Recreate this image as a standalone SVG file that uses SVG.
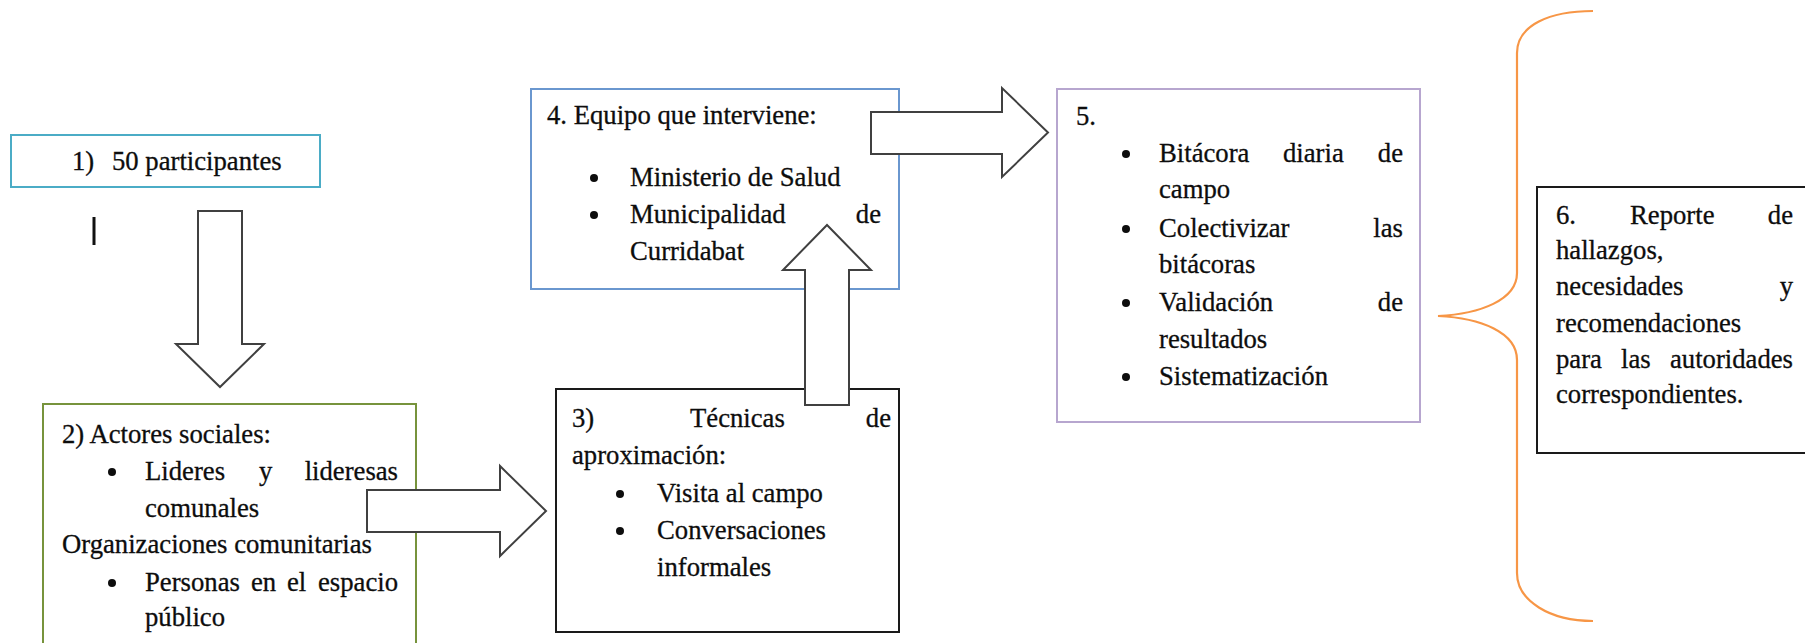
<svg xmlns="http://www.w3.org/2000/svg" width="1805" height="643" viewBox="0 0 1805 643">
<style>
  .t { font-family: "Liberation Serif", "Times New Roman", serif; font-size: 26.7px; fill: #0d0d0d; stroke: #0d0d0d; stroke-width: 0.3px; }
  .e { text-anchor: end; }
  .box { fill: #ffffff; stroke-width: 2; }
  .arrow { fill: #ffffff; stroke: #404040; stroke-width: 2; stroke-linejoin: miter; }
  .bul { fill: #0d0d0d; }
</style>
<rect width="1805" height="643" fill="#ffffff"/>

<g id="node1">
  <rect class="box" x="11" y="135" width="309" height="52" stroke="#4bacc6"/>
  <text class="t" x="72" y="170">1)</text>
  <text class="t" x="112" y="170">50 participantes</text>
</g>

<g id="mark">
  <rect x="92.5" y="217" width="3" height="28" fill="#111111"/>
</g>

<g id="node2">
  <rect class="box" x="43" y="404" width="373" height="260" stroke="#77933c"/>
  <text class="t" x="62" y="443">2) Actores sociales:</text>
  <circle class="bul" cx="112" cy="472" r="4"/>
  <text class="t" x="145" y="480">Lideres</text>
  <text class="t" x="259" y="480">y</text>
  <text class="t e" x="398" y="480">lideresas</text>
  <text class="t" x="145" y="517">comunales</text>
  <text class="t" x="62" y="553">Organizaciones comunitarias</text>
  <circle class="bul" cx="112" cy="583" r="4"/>
  <text class="t" x="145" y="591">Personas</text>
  <text class="t" x="251" y="591">en</text>
  <text class="t" x="287" y="591">el</text>
  <text class="t e" x="398" y="591">espacio</text>
  <text class="t" x="145" y="626">público</text>
</g>

<g id="node3">
  <rect class="box" x="556" y="389" width="343" height="243" stroke="#1a1a1a"/>
  <text class="t" x="572" y="427">3)</text>
  <text class="t" x="690" y="427">Técnicas</text>
  <text class="t e" x="891" y="427">de</text>
  <text class="t" x="572" y="464">aproximación:</text>
  <circle class="bul" cx="620" cy="494" r="4"/>
  <text class="t" x="657" y="502">Visita al campo</text>
  <circle class="bul" cx="620" cy="531" r="4"/>
  <text class="t" x="657" y="539">Conversaciones</text>
  <text class="t" x="657" y="576">informales</text>
</g>

<g id="node4">
  <rect class="box" x="531" y="89" width="368" height="200" stroke="#6a97cf"/>
  <text class="t" x="547" y="124">4. Equipo que interviene:</text>
  <circle class="bul" cx="594" cy="178" r="4"/>
  <text class="t" x="630" y="186">Ministerio de Salud</text>
  <circle class="bul" cx="594" cy="215" r="4"/>
  <text class="t" x="630" y="223">Municipalidad</text>
  <text class="t e" x="881" y="223">de</text>
  <text class="t" x="630" y="260">Curridabat</text>
</g>

<g id="node5">
  <rect class="box" x="1057" y="89" width="363" height="333" stroke="#b7a6cf"/>
  <text class="t" x="1076" y="125">5.</text>
  <circle class="bul" cx="1126" cy="154" r="4"/>
  <text class="t" x="1159" y="162">Bitácora</text>
  <text class="t" x="1283" y="162">diaria</text>
  <text class="t e" x="1403" y="162">de</text>
  <text class="t" x="1159" y="198">campo</text>
  <circle class="bul" cx="1126" cy="229" r="4"/>
  <text class="t" x="1159" y="237">Colectivizar</text>
  <text class="t e" x="1403" y="237">las</text>
  <text class="t" x="1159" y="273">bitácoras</text>
  <circle class="bul" cx="1126" cy="303" r="4"/>
  <text class="t" x="1159" y="311">Validación</text>
  <text class="t e" x="1403" y="311">de</text>
  <text class="t" x="1159" y="348">resultados</text>
  <circle class="bul" cx="1126" cy="377" r="4"/>
  <text class="t" x="1159" y="385">Sistematización</text>
</g>

<g id="node6">
  <rect class="box" x="1537" y="187" width="300" height="266" stroke="#1a1a1a"/>
  <text class="t" x="1556" y="224">6.</text>
  <text class="t" x="1630" y="224">Reporte</text>
  <text class="t e" x="1793" y="224">de</text>
  <text class="t" x="1556" y="259">hallazgos,</text>
  <text class="t" x="1556" y="295">necesidades</text>
  <text class="t e" x="1793" y="295">y</text>
  <text class="t" x="1556" y="332">recomendaciones</text>
  <text class="t" x="1556" y="368">para</text>
  <text class="t" x="1621" y="368">las</text>
  <text class="t e" x="1793" y="368">autoridades</text>
  <text class="t" x="1556" y="403">correspondientes.</text>
</g>

<g id="connectors">
  <polygon class="arrow" points="198,211 242,211 242,344 264,344 220,387 176,344 198,344"/>
  <polygon class="arrow" points="367,490 500,490 500,466 546,511 500,556 500,532 367,532"/>
  <polygon class="arrow" points="805,405 805,270 783,270 827,225 871,270 849,270 849,405"/>
  <polygon class="arrow" points="871,112 1002,112 1002,88 1048,132.5 1002,177 1002,154 871,154"/>
  <path id="brace" d="M1593,11 C1550,11 1517,25 1517,53 L1517,273 C1517,300 1480,314 1438,316 C1480,318 1517,332 1517,360 L1517,573 C1517,601 1550,621 1593,621" fill="none" stroke="#f79646" stroke-width="2.2"/>
</g>
</svg>
